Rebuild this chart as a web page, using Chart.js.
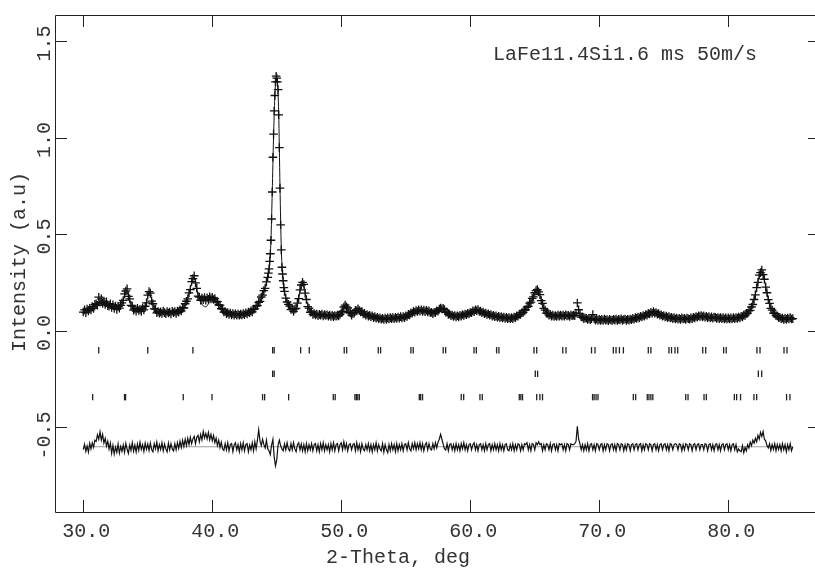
<!DOCTYPE html>
<html>
<head>
<meta charset="utf-8">
<script src="https://cdn.jsdelivr.net/npm/chart.js@4.4.1/dist/chart.umd.min.js"></script>
<style>
  html, body { margin: 0; padding: 0; background: #fff; overflow: hidden; }
  #wrap { position: relative; width: 835px; height: 568px; }
</style>
</head>
<body>
<div id="wrap"><canvas id="chart"></canvas></div>
<script>
// axis ticks
const xTicks = [30, 40, 50, 60, 70, 80];
const yTicks = [-0.5, 0.0, 0.5, 1.0, 1.5];

// observed intensity, one value every 0.1 deg from 30.0 to 85.0 (one row per degree)
const obsStart = 30.0;
const obsStep = 0.1;
const obsValues = [
  0.098,0.109,0.095,0.113,0.104,0.118,0.109,0.126,0.117,0.138, // 30
  0.141,0.133,0.175,0.149,0.166,0.143,0.155,0.137,0.151,0.131,
  0.128,0.141,0.122,0.136,0.117,0.129,0.112,0.127,0.118,0.133,
  0.146,0.158,0.192,0.207,0.218,0.179,0.166,0.133,0.129,0.108,
  0.114,0.103,0.117,0.106,0.112,0.101,0.119,0.109,0.128,0.146,
  0.186,0.204,0.196,0.155,0.141,0.114,0.113,0.094,0.101,0.092, // 35
  0.099,0.091,0.103,0.095,0.089,0.101,0.093,0.098,0.088,0.102,
  0.094,0.100,0.091,0.103,0.097,0.109,0.104,0.121,0.119,0.141,
  0.154,0.166,0.197,0.214,0.256,0.271,0.286,0.249,0.221,0.180,
  0.176,0.159,0.171,0.162,0.173,0.160,0.172,0.164,0.177,0.166,
  0.174,0.163,0.168,0.151,0.152,0.135,0.134,0.116,0.113,0.098, // 40
  0.101,0.090,0.095,0.086,0.093,0.083,0.090,0.082,0.089,0.081,
  0.088,0.081,0.087,0.083,0.090,0.084,0.094,0.088,0.098,0.094,
  0.104,0.099,0.113,0.114,0.129,0.131,0.148,0.153,0.176,0.186,
  0.209,0.221,0.254,0.278,0.322,0.400,0.580,0.900,1.140,1.290,
  1.310,1.250,0.950,0.550,0.330,0.260,0.205,0.170,0.150,0.138, // 45
  0.129,0.111,0.114,0.101,0.113,0.117,0.144,0.168,0.213,0.238,
  0.252,0.241,0.196,0.163,0.126,0.118,0.097,0.098,0.086,0.090,
  0.083,0.088,0.079,0.086,0.081,0.087,0.078,0.085,0.080,0.084,
  0.077,0.083,0.075,0.081,0.074,0.080,0.076,0.082,0.078,0.085,
  0.094,0.101,0.124,0.134,0.125,0.119,0.097,0.093,0.082,0.091, // 50
  0.092,0.107,0.104,0.115,0.106,0.099,0.100,0.088,0.091,0.081,
  0.085,0.077,0.081,0.073,0.079,0.069,0.074,0.066,0.071,0.063,
  0.068,0.061,0.066,0.059,0.067,0.060,0.068,0.062,0.069,0.063,
  0.070,0.063,0.071,0.065,0.072,0.066,0.074,0.067,0.075,0.069,
  0.078,0.075,0.086,0.083,0.094,0.092,0.102,0.097,0.106,0.101, // 55
  0.109,0.102,0.110,0.101,0.108,0.100,0.107,0.099,0.104,0.094,
  0.097,0.090,0.097,0.094,0.105,0.102,0.114,0.119,0.114,0.117,
  0.111,0.097,0.098,0.086,0.088,0.079,0.083,0.075,0.080,0.073,
  0.079,0.073,0.081,0.077,0.085,0.080,0.088,0.084,0.092,0.088,
  0.096,0.094,0.104,0.100,0.110,0.105,0.111,0.101,0.103,0.094, // 60
  0.098,0.089,0.093,0.085,0.089,0.081,0.085,0.077,0.081,0.074,
  0.078,0.071,0.076,0.069,0.074,0.067,0.072,0.065,0.071,0.064,
  0.069,0.063,0.069,0.064,0.072,0.069,0.078,0.076,0.087,0.085,
  0.096,0.096,0.108,0.109,0.124,0.127,0.144,0.149,0.169,0.177,
  0.198,0.209,0.214,0.203,0.188,0.157,0.143,0.117,0.108,0.092, // 65
  0.091,0.082,0.086,0.077,0.082,0.075,0.080,0.075,0.082,0.077,
  0.083,0.077,0.082,0.076,0.084,0.078,0.081,0.075,0.083,0.079,
  0.082,0.079,0.093,0.145,0.110,0.088,0.072,0.073,0.064,0.067,
  0.066,0.059,0.065,0.058,0.063,0.085,0.064,0.056,0.062,0.055,
  0.061,0.055,0.060,0.054,0.062,0.056,0.059,0.053,0.061,0.057, // 70
  0.055,0.061,0.056,0.062,0.054,0.060,0.057,0.063,0.055,0.059,
  0.062,0.055,0.061,0.056,0.062,0.058,0.065,0.061,0.069,0.065,
  0.072,0.068,0.076,0.072,0.080,0.076,0.085,0.082,0.091,0.088,
  0.097,0.092,0.100,0.092,0.096,0.087,0.090,0.081,0.084,0.076,
  0.080,0.072,0.077,0.069,0.074,0.067,0.071,0.064,0.069,0.062, // 75
  0.067,0.061,0.066,0.060,0.068,0.062,0.065,0.059,0.067,0.063,
  0.061,0.068,0.063,0.071,0.067,0.075,0.071,0.079,0.074,0.080,
  0.073,0.078,0.071,0.076,0.069,0.074,0.067,0.073,0.066,0.072,
  0.071,0.065,0.070,0.064,0.070,0.063,0.069,0.062,0.068,0.062,
  0.068,0.062,0.068,0.062,0.069,0.063,0.070,0.065,0.072,0.068, // 80
  0.076,0.073,0.082,0.080,0.091,0.092,0.104,0.107,0.124,0.137,
  0.163,0.187,0.224,0.252,0.289,0.302,0.316,0.292,0.268,0.227,
  0.198,0.162,0.143,0.117,0.108,0.092,0.091,0.079,0.078,0.069,
  0.071,0.063,0.067,0.059,0.065,0.060,0.067,0.062,0.069,0.062,
  0.064 // 85
];

// extra observed points on the main peak
const peakAngles = [44.35,44.45,44.55,44.65,44.75,44.85,44.95,45.05,45.15,45.25,45.35,45.45,45.55];
const peakObs    = [0.300,0.360,0.470,0.720,1.020,1.220,1.320,1.290,1.120,0.740,0.420,0.295,0.225];

// calculated profile
const calcAngles = [30.0,30.5,31.0,31.3,31.7,32.2,32.6,32.9,33.1,33.3,33.4,33.6,33.8,34.0,34.6,34.8,35.0,35.1,35.2,35.4,35.6,35.8,37.2,37.6,38.0,38.3,38.5,38.6,38.7,38.9,39.1,39.3,39.5,39.7,40.0,40.3,40.6,40.9,41.2,42.0,42.6,43.0,43.4,43.8,44.1,44.3,44.45,44.55,44.65,44.75,44.85,44.95,45.05,45.15,45.25,45.35,45.45,45.6,45.8,46.0,46.3,46.5,46.7,46.9,47.0,47.1,47.3,47.5,47.8,48.5,49.8,50.1,50.3,50.5,50.8,51.3,51.9,52.5,53.3,54.5,55.2,55.8,56.5,57.0,57.7,58.2,59.0,60.0,60.5,61.2,62.5,63.2,63.9,64.4,64.8,65.0,65.2,65.4,65.6,65.8,66.2,66.8,68.0,68.4,69.0,70.0,72.3,73.0,74.0,74.3,75.0,76.0,77.0,77.8,78.5,80.0,80.8,81.3,81.7,81.9,82.1,82.3,82.5,82.6,82.7,82.9,83.1,83.3,83.5,83.8,84.3,85.0];
const calcValues = [0.100,0.110,0.135,0.152,0.145,0.130,0.121,0.125,0.160,0.198,0.200,0.160,0.125,0.110,0.110,0.125,0.180,0.198,0.190,0.135,0.110,0.097,0.097,0.110,0.150,0.220,0.275,0.280,0.255,0.185,0.150,0.130,0.125,0.140,0.165,0.155,0.130,0.102,0.092,0.085,0.090,0.100,0.125,0.170,0.225,0.280,0.350,0.470,0.720,1.000,1.210,1.310,1.290,1.130,0.750,0.430,0.300,0.205,0.150,0.125,0.105,0.120,0.170,0.240,0.250,0.235,0.160,0.115,0.090,0.082,0.078,0.105,0.130,0.115,0.085,0.110,0.085,0.073,0.063,0.069,0.082,0.102,0.105,0.093,0.118,0.090,0.076,0.093,0.108,0.090,0.069,0.066,0.088,0.120,0.165,0.195,0.210,0.185,0.140,0.105,0.083,0.078,0.080,0.080,0.063,0.058,0.058,0.069,0.094,0.095,0.077,0.064,0.064,0.077,0.070,0.065,0.070,0.083,0.110,0.140,0.190,0.255,0.305,0.310,0.295,0.230,0.165,0.120,0.095,0.075,0.062,0.065];

// difference curve (obs - calc, drawn shifted), same 0.1 deg grid as obsValues
const diffOffset = -0.6;
const diffValues = [
  -0.615,-0.588,-0.624,-0.596,-0.628,-0.582,-0.611,-0.579,-0.603,-0.566, // 30
  -0.572,-0.538,-0.561,-0.522,-0.566,-0.536,-0.581,-0.556,-0.597,-0.571,
  -0.612,-0.581,-0.634,-0.593,-0.638,-0.602,-0.629,-0.586,-0.633,-0.598,
  -0.624,-0.591,-0.628,-0.582,-0.613,-0.634,-0.591,-0.619,-0.579,-0.623,
  -0.591,-0.627,-0.586,-0.619,-0.577,-0.614,-0.589,-0.624,-0.581,-0.613,
  -0.586,-0.619,-0.581,-0.614,-0.626,-0.584,-0.611,-0.576,-0.621,-0.589, // 35
  -0.614,-0.579,-0.621,-0.586,-0.611,-0.626,-0.581,-0.616,-0.584,-0.611,
  -0.621,-0.584,-0.616,-0.579,-0.609,-0.571,-0.604,-0.566,-0.599,-0.561,
  -0.594,-0.556,-0.589,-0.551,-0.584,-0.559,-0.546,-0.584,-0.551,-0.541,
  -0.574,-0.536,-0.564,-0.521,-0.554,-0.531,-0.559,-0.526,-0.564,-0.536,
  -0.569,-0.541,-0.579,-0.556,-0.594,-0.566,-0.604,-0.576,-0.611,-0.619, // 40
  -0.584,-0.616,-0.579,-0.621,-0.589,-0.584,-0.626,-0.589,-0.579,-0.616,
  -0.589,-0.626,-0.584,-0.616,-0.579,-0.621,-0.589,-0.584,-0.626,-0.591,
  -0.616,-0.579,-0.621,-0.574,-0.611,-0.566,-0.512,-0.571,-0.594,-0.561,
  -0.589,-0.606,-0.566,-0.611,-0.621,-0.641,-0.591,-0.561,-0.651,-0.699,
  -0.668,-0.591,-0.566,-0.594,-0.611,-0.621,-0.586,-0.616,-0.579,-0.611, // 45
  -0.621,-0.584,-0.616,-0.579,-0.611,-0.626,-0.589,-0.579,-0.616,-0.586,
  -0.621,-0.589,-0.626,-0.584,-0.621,-0.589,-0.616,-0.584,-0.621,-0.589,
  -0.584,-0.621,-0.589,-0.626,-0.584,-0.616,-0.579,-0.621,-0.589,-0.616,
  -0.589,-0.626,-0.584,-0.616,-0.579,-0.621,-0.589,-0.584,-0.621,-0.589,
  -0.579,-0.616,-0.574,-0.611,-0.584,-0.621,-0.589,-0.584,-0.616,-0.589, // 50
  -0.584,-0.621,-0.579,-0.616,-0.589,-0.626,-0.584,-0.611,-0.621,-0.589,
  -0.616,-0.584,-0.621,-0.589,-0.626,-0.589,-0.616,-0.579,-0.621,-0.589,
  -0.611,-0.621,-0.584,-0.628,-0.589,-0.616,-0.631,-0.589,-0.621,-0.584,
  -0.616,-0.589,-0.626,-0.584,-0.621,-0.589,-0.616,-0.584,-0.621,-0.589,
  -0.584,-0.616,-0.579,-0.611,-0.621,-0.584,-0.611,-0.579,-0.616,-0.584, // 55
  -0.611,-0.579,-0.616,-0.584,-0.621,-0.589,-0.579,-0.616,-0.584,-0.611,
  -0.616,-0.584,-0.611,-0.579,-0.606,-0.576,-0.561,-0.536,-0.561,-0.586,
  -0.611,-0.616,-0.584,-0.621,-0.589,-0.584,-0.616,-0.589,-0.621,-0.584,
  -0.616,-0.589,-0.621,-0.584,-0.611,-0.579,-0.616,-0.589,-0.621,-0.589,
  -0.584,-0.616,-0.589,-0.579,-0.616,-0.589,-0.621,-0.589,-0.584,-0.616, // 60
  -0.589,-0.621,-0.584,-0.616,-0.589,-0.584,-0.621,-0.589,-0.616,-0.584,
  -0.616,-0.589,-0.621,-0.584,-0.616,-0.589,-0.621,-0.589,-0.584,-0.616,
  -0.621,-0.589,-0.616,-0.584,-0.621,-0.589,-0.616,-0.584,-0.589,-0.621,
  -0.589,-0.616,-0.584,-0.589,-0.579,-0.616,-0.589,-0.621,-0.584,-0.589,
  -0.616,-0.579,-0.589,-0.574,-0.589,-0.584,-0.621,-0.589,-0.616,-0.584, // 65
  -0.589,-0.616,-0.584,-0.621,-0.589,-0.584,-0.616,-0.589,-0.621,-0.584,
  -0.589,-0.584,-0.616,-0.589,-0.621,-0.584,-0.589,-0.616,-0.584,-0.589,
  -0.589,-0.584,-0.571,-0.494,-0.561,-0.584,-0.616,-0.589,-0.621,-0.589,
  -0.616,-0.584,-0.621,-0.589,-0.584,-0.616,-0.589,-0.621,-0.584,-0.589,
  -0.616,-0.589,-0.584,-0.621,-0.589,-0.616,-0.584,-0.589,-0.621,-0.589, // 70
  -0.584,-0.616,-0.589,-0.621,-0.584,-0.589,-0.616,-0.584,-0.589,-0.621,
  -0.589,-0.616,-0.584,-0.589,-0.621,-0.589,-0.584,-0.616,-0.589,-0.584,
  -0.616,-0.589,-0.584,-0.621,-0.589,-0.616,-0.584,-0.589,-0.616,-0.584,
  -0.589,-0.621,-0.589,-0.584,-0.616,-0.589,-0.621,-0.589,-0.584,-0.616,
  -0.589,-0.584,-0.616,-0.589,-0.621,-0.584,-0.589,-0.616,-0.589,-0.584, // 75
  -0.589,-0.616,-0.584,-0.589,-0.621,-0.589,-0.616,-0.584,-0.589,-0.616,
  -0.584,-0.589,-0.621,-0.589,-0.584,-0.616,-0.589,-0.584,-0.616,-0.589,
  -0.589,-0.616,-0.584,-0.589,-0.621,-0.589,-0.584,-0.616,-0.589,-0.621,
  -0.589,-0.584,-0.616,-0.589,-0.621,-0.589,-0.584,-0.616,-0.589,-0.584,
  -0.616,-0.589,-0.621,-0.589,-0.584,-0.616,-0.589,-0.626,-0.611,-0.621, // 80
  -0.626,-0.594,-0.631,-0.604,-0.621,-0.589,-0.606,-0.576,-0.594,-0.566,
  -0.581,-0.556,-0.574,-0.541,-0.561,-0.526,-0.546,-0.521,-0.561,-0.569,
  -0.594,-0.606,-0.584,-0.619,-0.589,-0.614,-0.584,-0.621,-0.589,-0.614,
  -0.589,-0.621,-0.584,-0.616,-0.589,-0.626,-0.589,-0.616,-0.584,-0.621,
  -0.600 // 85
];

// reflection markers for the three phases
const phase1Pos = [31.2,35.0,38.5,44.68,44.8,46.85,47.52,50.23,50.42,52.87,53.05,55.4,55.58,57.9,58.09,60.29,60.47,62.04,62.22,64.94,65.15,67.17,67.42,69.4,69.67,71.09,71.3,71.56,71.87,73.8,74.0,75.4,75.6,75.87,76.08,78.02,78.25,79.64,79.84,82.22,82.46,84.32,84.55];
const phase2Pos = [44.68,44.8,65.04,65.22,82.33,82.59];
const phase3Pos = [30.73,33.2,33.28,37.75,39.98,43.9,44.06,45.92,49.38,49.53,51.06,51.17,51.28,51.4,56.05,56.15,56.3,59.3,59.49,60.75,60.93,63.8,63.92,64.05,65.15,65.4,65.6,69.48,69.6,69.75,69.9,72.64,72.82,73.72,73.85,74.0,74.15,76.7,76.88,78.12,78.3,80.47,80.65,80.95,81.99,82.2,84.52,84.78];
const phaseLevels = [-0.10, -0.222, -0.343];

const FONT = '20px "Liberation Mono", "Courier New", monospace';
const INK = "#111";

const obsPoints = obsValues.map((v, i) => ({ x: +(obsStart + i * obsStep).toFixed(2), y: v }));
const peakPoints = peakAngles.map((a, i) => ({ x: a, y: peakObs[i] }));
const calcPoints = calcAngles.map((a, i) => ({ x: a, y: calcValues[i] }));
const diffPoints = diffValues.map((v, i) => ({ x: +(obsStart + i * obsStep).toFixed(2), y: v }));
const zeroPoints = [
  { x: obsStart, y: diffOffset },
  { x: obsStart + (obsValues.length - 1) * obsStep, y: diffOffset },
];
const phaseSet = (pos, lvl) => ({
  data: pos.map((a) => ({ x: a, y: lvl })),
  showLine: false,
  pointStyle: "line",
  pointRotation: 90,
  pointRadius: 3.2,
  borderColor: "#222",
  borderWidth: 1.3,
});
const crossSet = (pts) => ({
  data: pts,
  showLine: false,
  pointStyle: "cross",
  pointRadius: 4.3,
  borderColor: INK,
  borderWidth: 1.3,
});

const frame = {
  id: "frame",
  afterDraw(chart) {
    const { ctx, chartArea: a, scales } = chart;
    const x = scales.x, y = scales.y;
    ctx.save();
    ctx.strokeStyle = "#222";
    ctx.lineWidth = 1;
    ctx.beginPath();
    ctx.moveTo(a.left + 0.5, a.top + 0.5);
    ctx.lineTo(a.right + 0.5, a.top + 0.5);
    ctx.lineTo(a.right + 0.5, a.bottom + 0.5);
    ctx.lineTo(a.left + 0.5, a.bottom + 0.5);
    ctx.closePath();
    xTicks.forEach((v) => {
      const px = Math.round(x.getPixelForValue(v)) + 0.5;
      ctx.moveTo(px, a.bottom); ctx.lineTo(px, a.bottom - 12);
      ctx.moveTo(px, a.top); ctx.lineTo(px, a.top + 12);
    });
    yTicks.forEach((v) => {
      const py = Math.round(y.getPixelForValue(v)) + 0.5;
      ctx.moveTo(a.left, py); ctx.lineTo(a.left + 12, py);
      ctx.moveTo(a.right, py); ctx.lineTo(a.right - 12, py);
    });
    ctx.stroke();

    ctx.fillStyle = "#333";
    ctx.font = FONT;
    ctx.textBaseline = "alphabetic";
    ctx.textAlign = "center";
    xTicks.forEach((v) => ctx.fillText(v.toFixed(1), x.getPixelForValue(v) + 3, 537));
    ctx.fillText("2-Theta, deg", 398, 563);

    yTicks.forEach((v) => {
      ctx.save();
      ctx.translate(50, y.getPixelForValue(v) + (v < 0 ? 8 : 2));
      ctx.rotate(-Math.PI / 2);
      ctx.fillText(v.toFixed(1), 0, 0);
      ctx.restore();
    });
    ctx.save();
    ctx.translate(25, 262);
    ctx.rotate(-Math.PI / 2);
    ctx.fillText("Intensity (a.u)", 0, 0);
    ctx.restore();

    ctx.textAlign = "left";
    ctx.fillText("LaFe11.4Si1.6 ms 50m/s", 493, 60);
    ctx.restore();
  },
};

new Chart(document.getElementById("chart").getContext("2d"), {
  type: "scatter",
  data: {
    datasets: [
      {
        data: calcPoints,
        showLine: true,
        pointRadius: 0,
        borderColor: INK,
        borderWidth: 1,
        cubicInterpolationMode: "monotone",
      },
      crossSet(obsPoints),
      crossSet(peakPoints),
      {
        data: diffPoints,
        showLine: true,
        pointRadius: 0,
        borderColor: INK,
        borderWidth: 1.2,
      },
      {
        data: zeroPoints,
        showLine: true,
        pointRadius: 0,
        borderColor: "#9a9a9a",
        borderWidth: 1,
      },
      phaseSet(phase1Pos, phaseLevels[0]),
      phaseSet(phase2Pos, phaseLevels[1]),
      phaseSet(phase3Pos, phaseLevels[2]),
    ],
  },
  options: {
    responsive: true,
    maintainAspectRatio: false,
    animation: false,
    layout: { padding: { left: 55, top: 15, right: 15, bottom: 56 } },
    plugins: { legend: { display: false }, tooltip: { enabled: false } },
    scales: {
      x: { type: "linear", min: 27.81, max: 87.11, display: false },
      y: { type: "linear", min: -0.938, max: 1.637, display: false },
    },
  },
  plugins: [frame],
});
</script>
</body>
</html>
